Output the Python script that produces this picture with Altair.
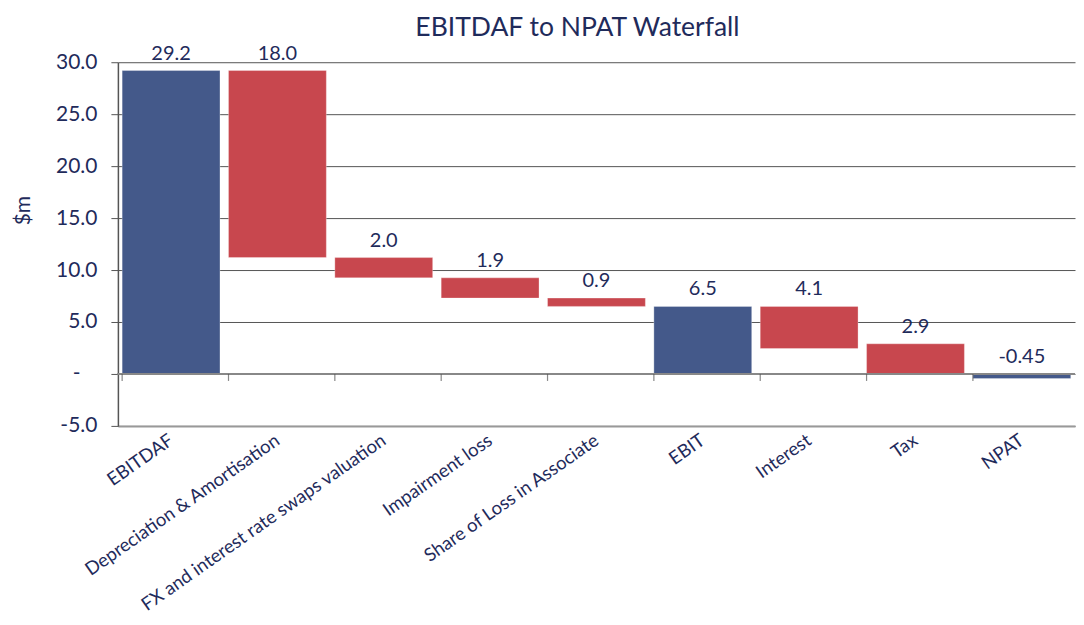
import altair as alt
import pandas as pd

categories = ["EBITDAF", "Depreciation & Amortisation", "FX and interest rate swaps valuation",
              "Impairment loss", "Share of Loss in Associate", "EBIT", "Interest", "Tax", "NPAT"]
bar_start = [0, 29.2, 11.2, 9.25, 7.3, 0, 6.5, 2.9, 0]
bar_end = [29.2, 11.2, 9.25, 7.3, 6.5, 6.5, 2.45, 0, -0.45]
value_labels = ["29.2", "18.0", "2.0", "1.9", "0.9", "6.5", "4.1", "2.9", "-0.45"]
kind = ["total", "decrease", "decrease", "decrease", "decrease", "total", "decrease", "decrease", "total"]

df = pd.DataFrame({
    "cat": categories,
    "start": bar_start,
    "end": bar_end,
    "label": value_labels,
    "kind": kind,
})
df["top"] = df[["start", "end"]].max(axis=1)

NAVY = "#1F2B5B"
FONT = "Lato"

xscale = alt.Scale(paddingInner=0.08, paddingOuter=0.04)

x_main = alt.X("cat:N", sort=categories, title=None, scale=xscale,
               axis=alt.Axis(labelAngle=-35, labelAlign="right", labelBaseline="middle",
                             labelFontSize=18.5, labelColor=NAVY, labelFont=FONT,
                             labelPadding=12, ticks=False, domainColor="#999999",
                             domainWidth=2, grid=False, labelLimit=400))

y_enc = alt.Y("start:Q", title="$m",
              scale=alt.Scale(domain=[-5, 30], nice=False),
              axis=alt.Axis(values=[-5, 0, 5, 10, 15, 20, 25, 30],
                            labelExpr="datum.value == 0 ? '-' : replace(format(datum.value, '.1f'), '\u2212', '-')",
                            labelFontSize=21, labelColor=NAVY, labelFont=FONT,
                            labelPadding={"condition": {"test": "datum.value == 0", "value": 31},
                                          "value": 14},
                            tickSize=7, tickColor="#555555", domainColor="#555555", domainWidth=1.5,
                            gridColor="#555555", gridWidth=1, grid=True,
                            titleFontSize=21, titleColor=NAVY, titleFont=FONT,
                            titleFontWeight="normal", titlePadding=22, titleY=148))

bars = alt.Chart(df).mark_bar(stroke="white", strokeOpacity=0.3, strokeWidth=1).encode(
    x=x_main,
    y=y_enc,
    y2="end:Q",
    color=alt.Color("kind:N", scale=alt.Scale(domain=["total", "decrease"],
                                              range=["#44598A", "#C8474E"]), legend=None),
)

zero_line = alt.Chart(df).mark_rule(color="#888888", strokeWidth=2).encode(
    y=alt.datum(0),
)

cat_ticks = alt.Chart(df).mark_tick(orient="vertical", size=7, yOffset=3.5, color="#555555",
                                    thickness=1.2).encode(
    x=alt.X("cat:N", sort=categories, bandPosition=0),
    y=alt.datum(0),
)

texts = alt.Chart(df).mark_text(baseline="bottom", dy=-7, fontSize=20, color=NAVY, font=FONT).encode(
    x=alt.X("cat:N", sort=categories),
    y=alt.Y("top:Q"),
    text="label:N",
)

chart = alt.layer(bars, zero_line, cat_ticks, texts).properties(
    width=958, height=364,
    padding={"left": 4, "top": 6, "right": 0, "bottom": 0},
    title=alt.TitleParams("EBITDAF to NPAT Waterfall", fontSize=26.5, font=FONT, color=NAVY,
                          fontWeight="normal", offset=2, dx=-19),
).configure_view(stroke=None)

chart.save("out.html", embed_options={"renderer": "svg", "actions": False})
